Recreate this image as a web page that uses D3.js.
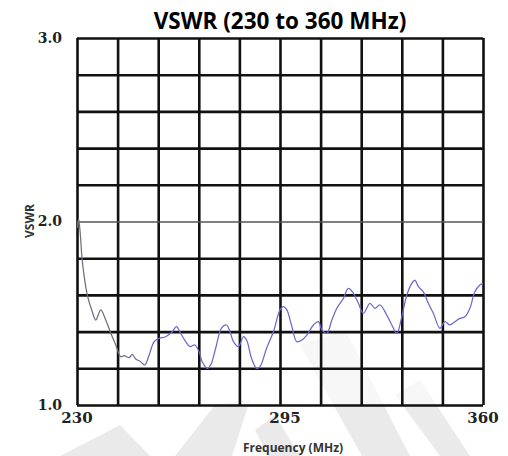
<!DOCTYPE html>
<html lang="en">
<head>
<meta charset="UTF-8">
<title>VSWR (230 to 360 MHz)</title>
<style>
    body {
        margin: 0;
        padding: 0;
        background: #fff;
    }
    #chart text.title {
        font-family: "Open Sans", sans-serif;
        font-weight: bold;
    }
    #chart .tick-label {
        font-family: "DejaVu Serif", serif;
        font-weight: bold;
        font-size: 14px;
        fill: #222;
    }
    #chart .axis-title {
        font-family: "Open Sans", sans-serif;
        font-weight: bold;
        font-size: 12px;
        fill: #333;
    }
</style>
</head>
<body>
<svg id="chart"></svg>

<script src="https://d3js.org/d3.v7.min.js"></script>
<script>
    // frequency (MHz) and VSWR
    var freq = [230.1, 230.5, 231.0, 231.6, 232.2, 233.3, 234.9, 236.0, 237.6, 239.2,
        240.8, 242.4, 244.0, 245.1, 246.7, 247.7, 248.8, 250.4, 251.7, 253.1,
        254.7, 256.3, 258.4, 260.5, 261.8, 263.2, 264.8, 266.2, 267.7, 269.1,
        270.1, 271.7, 272.8, 274.4, 276.3, 277.9, 279.0, 280.1, 281.7, 283.3,
        284.3, 285.9, 287.5, 288.6, 290.7, 292.9, 295.0, 296.1, 297.2, 298.8,
        300.4, 302.0, 303.6, 305.7, 307.3, 308.4, 310.0, 311.6, 313.2, 315.3,
        316.9, 318.5, 320.1, 321.7, 323.8, 325.4, 327.0, 329.2, 330.8, 332.4,
        334.0, 335.6, 337.2, 338.2, 339.3, 340.9, 342.5, 344.1, 346.2, 347.8,
        349.4, 351.0, 352.6, 354.2, 355.8, 357.4, 359.0, 360.0];
    var vswr = [1.965, 2.014, 1.943, 1.801, 1.714, 1.599, 1.508, 1.463, 1.518, 1.463,
        1.392, 1.327, 1.263, 1.269, 1.258, 1.276, 1.251, 1.236, 1.218, 1.272,
        1.345, 1.363, 1.372, 1.399, 1.427, 1.391, 1.345, 1.318, 1.327, 1.290,
        1.236, 1.200, 1.218, 1.309, 1.420, 1.436, 1.399, 1.345, 1.318, 1.372,
        1.354, 1.254, 1.200, 1.209, 1.309, 1.399, 1.518, 1.536, 1.518, 1.427,
        1.345, 1.354, 1.381, 1.436, 1.454, 1.409, 1.391, 1.463, 1.527, 1.581,
        1.636, 1.609, 1.554, 1.500, 1.554, 1.527, 1.545, 1.490, 1.436, 1.391,
        1.481, 1.599, 1.663, 1.681, 1.645, 1.617, 1.554, 1.500, 1.418, 1.454,
        1.436, 1.454, 1.472, 1.481, 1.527, 1.617, 1.654, 1.663];

    var xGrid = [230, 243, 256, 269, 282, 295, 308, 321, 334, 347, 360];
    var yGrid = [1.0, 1.2, 1.4, 1.6, 1.8, 2.0, 2.2, 2.4, 2.6, 2.8, 3.0];
    var xLabels = [230, 295, 360];
    var yLabels = [1.0, 2.0, 3.0];

    var W = 508, H = 456;
    var margin = { top: 38, right: 25, bottom: 51, left: 77 };
    var width = W - margin.left - margin.right;
    var height = H - margin.top - margin.bottom;

    var svg = d3.select("#chart")
        .attr("width", W)
        .attr("height", H);

    // faint grey watermark behind the plot
    var wm = svg.append("g").attr("fill", "#e2e2e2").attr("opacity", 0.7);
    wm.append("polygon").attr("points", "300,345 345,330 410,456 362,456");
    wm.append("polygon").attr("points", "395,395 420,380 470,456 440,456");
    wm.append("polygon").attr("points", "175,456 215,405 250,400 232,456");
    wm.append("polygon").attr("points", "60,456 120,425 150,456");
    wm.append("polygon").attr("points", "255,430 275,415 300,456 268,456");

    var x = d3.scaleLinear().domain([230, 360]).range([0, width]);
    var y = d3.scaleLinear().domain([1, 3]).range([height, 0]);

    var g = svg.append("g")
        .attr("transform", "translate(" + margin.left + "," + margin.top + ")");

    g.append("rect")
        .attr("width", width)
        .attr("height", height)
        .attr("fill", "#fff")
        .attr("opacity", 0.6);

    // grid
    g.append("g")
        .call(d3.axisBottom(x).tickValues(xGrid).tickSize(height).tickFormat(""))
        .call(function (s) {
            s.select(".domain").remove();
            s.selectAll("line").attr("stroke", "#111").attr("stroke-width", 2.6);
        });

    g.append("g")
        .call(d3.axisLeft(y).tickValues(yGrid).tickSize(-width).tickFormat(""))
        .call(function (s) {
            s.select(".domain").remove();
            s.selectAll("line")
                .attr("stroke", function (d) { return d === 2.0 ? "#555" : "#111"; })
                .attr("stroke-width", function (d) { return d === 2.0 ? 1.6 : 2.6; });
        });

    // trace
    var grad = svg.append("defs").append("linearGradient")
        .attr("id", "traceColor")
        .attr("gradientUnits", "userSpaceOnUse")
        .attr("x1", x(244)).attr("x2", x(256))
        .attr("y1", 0).attr("y2", 0);
    grad.append("stop").attr("offset", 0).attr("stop-color", "#6f6f78");
    grad.append("stop").attr("offset", 1).attr("stop-color", "#6a68cc");

    var data = freq.map(function (f, i) { return { f: f, v: vswr[i] }; });

    g.append("path")
        .datum(data)
        .attr("fill", "none")
        .attr("stroke", "url(#traceColor)")
        .attr("stroke-width", 1.25)
        .attr("d", d3.line()
            .x(function (d) { return x(d.f); })
            .y(function (d) { return y(d.v); })
            .curve(d3.curveCatmullRom));

    // tick labels
    g.selectAll(".ylab")
        .data(yLabels)
        .enter().append("text")
        .attr("class", "tick-label")
        .attr("x", -15)
        .attr("y", function (d) { return y(d); })
        .attr("dy", "0.35em")
        .attr("text-anchor", "end")
        .text(function (d) { return d.toFixed(1); });

    g.selectAll(".xlab")
        .data(xLabels)
        .enter().append("text")
        .attr("class", "tick-label")
        .attr("x", function (d) { return x(d) + (d === 295 ? 5 : 0); })
        .attr("y", height + 18)
        .attr("text-anchor", "middle")
        .style("font-size", "15px")
        .text(function (d) { return d; });

    // titles
    svg.append("text")
        .attr("class", "title")
        .attr("x", 280)
        .attr("y", 29)
        .attr("text-anchor", "middle")
        .style("font-size", "22.5px")
        .text("VSWR (230 to 360 MHz)");

    svg.append("text")
        .attr("class", "axis-title")
        .attr("x", 293)
        .attr("y", 452)
        .attr("text-anchor", "middle")
        .text("Frequency (MHz)");

    svg.append("text")
        .attr("class", "axis-title")
        .attr("transform", "translate(34,221) rotate(-90)")
        .attr("text-anchor", "middle")
        .text("VSWR");
</script>
</body>
</html>
